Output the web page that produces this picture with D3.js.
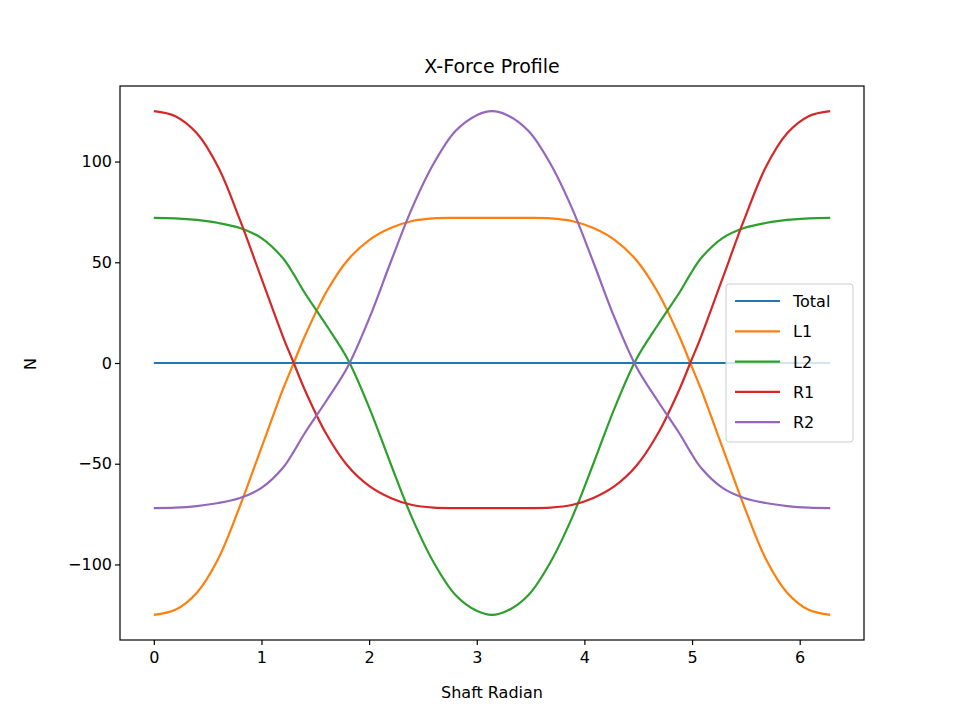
<!DOCTYPE html>
<html><head><meta charset="utf-8">
<script src="https://cdn.jsdelivr.net/npm/d3@7"></script>
<style>body{margin:0;background:#fff}svg{font-family:"DejaVu Sans",sans-serif}</style>
</head><body><svg id="c" width="960" height="720"></svg>
<script>
const xs   = [0,0.2,0.4,0.6,0.8,1.0,1.2,1.3,1.4,1.6,1.8,2.0,2.2,2.4,2.6,2.8,3.0,3.1416,3.2832,3.4832,3.6832,3.8832,4.0832,4.2832,4.4832,4.6832,4.8832,4.9832,5.0832,5.2832,5.4832,5.6832,5.8832,6.0832,6.2832];
const total= xs.map(()=>0);
const R1 = [125,122.5,114,97,71,42,13,0,-13,-35,-51,-61,-67,-70.5,-71.8,-72,-72,-72,-72,-72,-71.8,-70.5,-67,-61,-51,-35,-13,0,13,42,71,97,114,122.5,125];
const L1 = R1.map(v=>-v);
const R2 = [-72,-71.8,-71,-69.5,-67,-62,-52,-44,-35,-19,-2,22,50,77,99,115,123,125,123,115,99,77,50,22,-2,-19,-35,-44,-52,-62,-67,-69.5,-71,-71.8,-72];
const L2 = R2.map(v=>-v);
const names=["Total","L1","L2","R1","R2"];
const colors=["#1f77b4","#ff7f0e","#2ca02c","#d62728","#9467bd"];
const series=[total,L1,L2,R1,R2];
const yTicks=[-100,-50,0,50,100];
const xTicks=[0,1,2,3,4,5,6];

const svg=d3.select("#c");
const L=120,R=864,T=86,B=640;
const x=d3.scaleLinear().domain([-0.31416,6.59734]).range([L,R]);
const y=d3.scaleLinear().domain([-137.5,137.5]).range([B,T]);
const line=d3.line().x((d,i)=>x(xs[i])).y(d=>y(d)).curve(d3.curveCatmullRom.alpha(0.5));
series.forEach((s,i)=>svg.append("path").attr("d",line(s)).attr("fill","none").attr("stroke",colors[i]).attr("stroke-width",2.2));
svg.append("rect").attr("x",L).attr("y",T).attr("width",R-L).attr("height",B-T).attr("fill","none").attr("stroke","#000").attr("stroke-width",1.2);
const fmt=d=>String(d).replace("-","\u2212");
svg.append("g").attr("transform",`translate(0,${B})`).call(d3.axisBottom(x).tickValues(xTicks).tickSize(5).tickFormat(fmt))
 .call(g=>{g.select(".domain").remove();g.selectAll("line").attr("stroke-width",1.2);g.selectAll("text").attr("font-size",16).attr("font-family","DejaVu Sans").attr("dy","0.95em").attr("fill","#000");});
svg.append("g").attr("transform",`translate(${L},0)`).call(d3.axisLeft(y).tickValues(yTicks).tickSize(5).tickFormat(fmt))
 .call(g=>{g.select(".domain").remove();g.selectAll("line").attr("stroke-width",1.2);g.selectAll("text").attr("font-size",16).attr("font-family","DejaVu Sans").attr("fill","#000");});
svg.append("text").attr("x",(L+R)/2).attr("y",73).attr("text-anchor","middle").attr("font-size",19).text("X-Force Profile");
svg.append("text").attr("x",(L+R)/2).attr("y",698).attr("text-anchor","middle").attr("font-size",16).text("Shaft Radian");
svg.append("text").attr("transform","translate(36,364) rotate(-90)").attr("text-anchor","middle").attr("font-size",16).text("N");
const lg=svg.append("g");
lg.append("rect").attr("x",726).attr("y",284).attr("width",127).attr("height",158).attr("rx",3).attr("fill","#fff").attr("fill-opacity",0.8).attr("stroke","#ccc");
names.forEach((n,i)=>{const yy=301+i*30.3;
 lg.append("line").attr("x1",735).attr("x2",780).attr("y1",yy).attr("y2",yy).attr("stroke",colors[i]).attr("stroke-width",2.2);
 lg.append("text").attr("x",793).attr("y",yy+6).attr("font-size",16).text(n);});
</script></body></html>
